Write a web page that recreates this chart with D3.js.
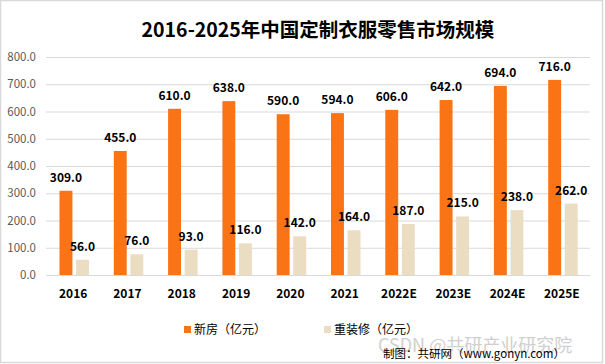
<!DOCTYPE html>
<html>
<head>
<meta charset="utf-8">
<script src="https://cdn.jsdelivr.net/npm/d3@7"></script>
<style>
  body { margin: 0; background: #fff; }
  text { font-family: "Microsoft YaHei", "Noto Sans CJK SC", "DejaVu Sans", sans-serif; }
</style>
</head>
<body>
<div id="chart"></div>
<script>
(function() {

  var width = 605, height = 364;

  // data
  var years = ["2016", "2017", "2018", "2019", "2020", "2021", "2022E", "2023E", "2024E", "2025E"];
  var newHouse = [309, 455, 610, 638, 590, 594, 606, 642, 694, 716];
  var renovation = [56, 76, 93, 116, 142, 164, 187, 215, 238, 262];
  var seriesNames = ["新房（亿元）", "重装修（亿元）"];
  var colors = ["#FA7314", "#EADDC2"];
  var yTicks = [0, 100, 200, 300, 400, 500, 600, 700, 800];

  var svg = d3.select("#chart")
    .append("svg")
    .attr("width", width)
    .attr("height", height);

  // outer frame
  svg.append("rect")
    .attr("x", 0.5).attr("y", 0.5)
    .attr("width", 602).attr("height", 362)
    .attr("fill", "#fff")
    .attr("stroke", "#d9d9d9")
    .attr("stroke-width", 1.5);

  svg.append("text")
    .attr("x", 318).attr("y", 37)
    .attr("text-anchor", "middle")
    .attr("font-size", 19.5)
    .attr("font-weight", "bold")
    .attr("fill", "#000")
    .text("2016-2025年中国定制衣服零售市场规模");

  var x0 = d3.scaleBand().domain(years).range([46, 589]);
  var x1 = d3.scaleBand().domain([0, 1]).range([13.5, 43]).paddingInner(0.22);
  var y = d3.scaleLinear().domain([0, 800]).range([275, 57]);

  // gridlines
  svg.append("g")
    .selectAll("line")
    .data(yTicks)
    .enter().append("line")
    .attr("x1", 46).attr("x2", 590)
    .attr("y1", function(d) { return y(d) + 0.5; })
    .attr("y2", function(d) { return y(d) + 0.5; })
    .attr("stroke", "#d9d9d9")
    .attr("stroke-width", 1);

  // y axis labels
  var yAxis = d3.axisLeft(y).tickValues(yTicks).tickSize(0).tickPadding(0)
    .tickFormat(function(d) { return d3.format(".1f")(d); });
  var gy = svg.append("g")
    .attr("transform", "translate(36,0)")
    .call(yAxis);
  gy.select(".domain").remove();
  gy.selectAll("text")
    .attr("font-size", 11.5)
    .attr("fill", "#595959")
    .style("font-family", "\"Microsoft YaHei\", \"Noto Sans CJK SC\", sans-serif");

  // x axis labels
  var xAxis = d3.axisBottom(x0).tickSize(0).tickPadding(0);
  var gx = svg.append("g")
    .attr("transform", "translate(0,289)")
    .call(xAxis);
  gx.select(".domain").remove();
  gx.selectAll("text")
    .attr("font-size", 12)
    .attr("font-weight", "bold")
    .attr("fill", "#000")
    .style("font-family", "\"Microsoft YaHei\", \"Noto Sans CJK SC\", sans-serif");

  var series = [newHouse, renovation];

  series.forEach(function(values, si) {
    var g = svg.append("g");
    g.selectAll("rect")
      .data(values)
      .enter().append("rect")
      .attr("x", function(d, i) { return x0(years[i]) + x1(si); })
      .attr("width", x1.bandwidth())
      .attr("y", function(d) { return y(d); })
      .attr("height", function(d) { return y(0) - y(d); })
      .attr("fill", colors[si]);

    g.selectAll("text")
      .data(values)
      .enter().append("text")
      .attr("x", function(d, i) { return x0(years[i]) + x1(si) + x1.bandwidth() / 2; })
      .attr("y", function(d) { return y(d) - 9; })
      .attr("text-anchor", "middle")
      .attr("font-size", 12)
      .attr("font-weight", "bold")
      .attr("fill", "#000")
      .text(function(d) { return d3.format(".1f")(d); });
  });

  // legend
  var legendX = [184, 324];
  var legend = svg.append("g");
  seriesNames.forEach(function(name, i) {
    legend.append("rect")
      .attr("x", legendX[i]).attr("y", 326)
      .attr("width", 7).attr("height", 7)
      .attr("fill", colors[i]);
    legend.append("text")
      .attr("x", legendX[i] + 10).attr("y", 334)
      .attr("font-size", 12)
      .attr("fill", "#000")
      .text(name);
  });

  // watermark + source
  svg.append("text")
    .attr("x", 378).attr("y", 352)
    .attr("font-size", 18)
    .attr("fill", "#c8c8c8")
    .attr("opacity", 0.85)
    .text("CSDN @共研产业研究院");

  svg.append("text")
    .attr("x", 383).attr("y", 358)
    .attr("font-size", 11.5)
    .attr("fill", "#000")
    .text("制图：共研网（www.gonyn.com）");

})();
</script>
</body>
</html>
